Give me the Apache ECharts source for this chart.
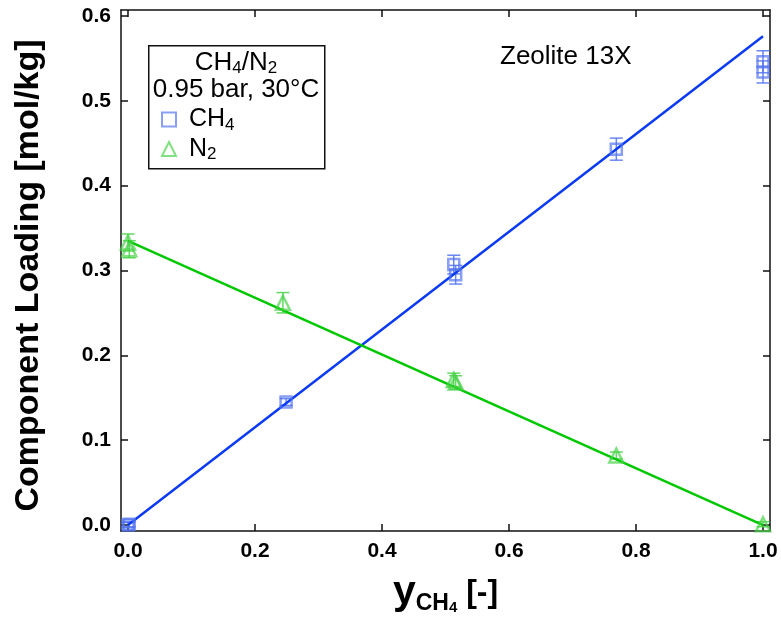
<!DOCTYPE html>
<html>
<head>
<meta charset="utf-8">
<script src="https://cdn.jsdelivr.net/npm/echarts@6/dist/echarts.min.js"></script>
<style>html,body{margin:0;padding:0;background:#fff}#c{width:781px;height:617px}</style>
</head>
<body>
<div id="c"></div>
<script>
// ---- data ----
const xTicks = [0.0, 0.2, 0.4, 0.6, 0.8, 1.0];
const yTicks = [0.0, 0.1, 0.2, 0.3, 0.4, 0.5, 0.6];
const ch4X   = [0.000, 0.002, 0.249, 0.513, 0.516, 0.769, 1.000, 1.000];
const ch4Y   = [0.000, 0.001, 0.145, 0.307, 0.295, 0.443, 0.546, 0.534];
const ch4Err = [0.003, 0.003, 0.004, 0.011, 0.011, 0.013, 0.013, 0.013];
const n2X    = [0.000, 0.002, 0.244, 0.513, 0.516, 0.769, 1.000];
const n2Y    = [0.333, 0.325, 0.262, 0.171, 0.168, 0.082, 0.001];
const n2Err  = [0.010, 0.010, 0.012, 0.008, 0.008, 0.004, 0.003];
const fitX   = [0.0, 1.0];
const ch4Fit = [0.000, 0.576];
const n2Fit  = [0.335, 0.000];

const BLUE_LINE = '#0b3af5', BLUE_MK = 'rgba(80,115,240,0.85)';
const GREEN_LINE = '#00c800', GREEN_MK = 'rgba(70,210,70,0.85)';
const FONT = '"Liberation Sans", Arial, Helvetica, sans-serif';

const pts = (xs, ys) => xs.map((x, i) => [x, ys[i]]);
const errs = (xs, ys, es) => xs.map((x, i) => [x, ys[i] - es[i], ys[i] + es[i]]);

function errRender(color) {
  return function (params, api) {
    const x = api.value(0), lo = api.value(1), hi = api.value(2);
    const a = api.coord([x, lo]), b = api.coord([x, hi]);
    const w = 6.5, st = { stroke: color, lineWidth: 1.5 };
    return { type: 'group', children: [
      { type: 'line', shape: { x1: a[0], y1: a[1], x2: b[0], y2: b[1] }, style: st },
      { type: 'line', shape: { x1: a[0] - w, y1: a[1], x2: a[0] + w, y2: a[1] }, style: st },
      { type: 'line', shape: { x1: b[0] - w, y1: b[1], x2: b[0] + w, y2: b[1] }, style: st }
    ]};
  };
}

const axisLine = { show: true, onZero: false, lineStyle: { color: '#111', width: 1.5 } };
const tick = (vals) => ({ show: true, inside: true, length: 7, customValues: vals, lineStyle: { color: '#111', width: 1.5 } });
const XMIN = -0.011, XMAX = 1.011, YMIN = -0.007, YMAX = 0.607;

const chart = echarts.init(document.getElementById('c'), null, { renderer: 'canvas' });
chart.setOption({
  animation: false,
  backgroundColor: '#fff',
  textStyle: { fontFamily: FONT },
  grid: { left: 121, right: 11, top: 10, bottom: 86, containLabel: false, outerBoundsMode: 'none' },
  xAxis: [
    { type: 'value', min: XMIN, max: XMAX, position: 'bottom', axisLine, axisTick: tick(xTicks), splitLine: { show: false },
      axisLabel: { customValues: xTicks, formatter: v => v.toFixed(1), fontSize: 21, fontWeight: 'bold', color: '#000', margin: 10, fontFamily: FONT },
      name: '{y|y}{s|CH}{t|4}{b| [-]}', nameLocation: 'middle', nameGap: 40,
      nameTextStyle: { fontFamily: FONT, rich: {
        y: { fontSize: 41, fontWeight: 'bold', color: '#000', fontFamily: FONT, lineHeight: 44 },
        s: { fontSize: 23, fontWeight: 'bold', color: '#000', fontFamily: FONT, lineHeight: 30, verticalAlign: 'bottom' },
        t: { fontSize: 15, fontWeight: 'bold', color: '#000', fontFamily: FONT, lineHeight: 18, verticalAlign: 'bottom' },
        b: { fontSize: 32, fontWeight: 'bold', color: '#000', fontFamily: FONT, lineHeight: 44 }
      } } },
    { type: 'value', min: XMIN, max: XMAX, position: 'top', axisLine, axisTick: tick(xTicks), axisLabel: { show: false }, splitLine: { show: false } }
  ],
  yAxis: [
    { type: 'value', min: YMIN, max: YMAX, position: 'left', axisLine, axisTick: tick(yTicks), splitLine: { show: false },
      axisLabel: { customValues: yTicks, formatter: v => v.toFixed(1), fontSize: 21, fontWeight: 'bold', color: '#000', margin: 10, fontFamily: FONT },
      name: 'Component Loading [mol/kg]', nameLocation: 'middle', nameGap: 75,
      nameTextStyle: { fontSize: 34, fontWeight: 'bold', color: '#000', fontFamily: FONT, padding: [0, 10, 0, 0] } },
    { type: 'value', min: YMIN, max: YMAX, position: 'right', axisLine, axisTick: tick(yTicks), axisLabel: { show: false }, splitLine: { show: false } }
  ],
  legend: {
    orient: 'vertical', left: 156, top: 102, itemGap: 3, itemWidth: 14, itemHeight: 14,
    data: ['CH4', 'N2'],
    formatter: n => n === 'CH4' ? '{a|CH}{s|4}' : '{a|N}{s|2}',
    textStyle: { fontFamily: FONT, rich: {
      a: { fontSize: 25, color: '#000', fontFamily: FONT, lineHeight: 28, padding: [0, 0, 0, 8] },
      s: { fontSize: 17, color: '#000', fontFamily: FONT, lineHeight: 16, verticalAlign: 'bottom' }
    } }
  },
  graphic: [
    { type: 'rect', left: 148, top: 45, z: 1, shape: { width: 176, height: 123 }, style: { fill: '#fff', stroke: '#111', lineWidth: 1.5 } },
    { type: 'text', x: 236, y: 63, z: 5, style: { text: '{a|CH}{s|4}{a|/N}{s|2}', align: 'center', verticalAlign: 'middle',
        rich: { a: { fontSize: 26, fontFamily: FONT, fill: '#000', lineHeight: 28 }, s: { fontSize: 17, fontFamily: FONT, fill: '#000', lineHeight: 16, verticalAlign: 'bottom' } } } },
    { type: 'text', x: 236, y: 90, z: 5, style: { text: '0.95 bar, 30°C', align: 'center', verticalAlign: 'middle', font: '26px ' + FONT, fill: '#000' } },
    { type: 'text', x: 500, y: 57, z: 5, style: { text: 'Zeolite 13X', align: 'left', verticalAlign: 'middle', font: '26px ' + FONT, fill: '#000' } }
  ],
  series: [
    { name: 'CH4 fit', type: 'line', xAxisIndex: 0, yAxisIndex: 0, data: pts(fitX, ch4Fit), showSymbol: false, symbol: 'none', lineStyle: { color: BLUE_LINE, width: 2.5 }, z: 3 },
    { name: 'N2 fit', type: 'line', xAxisIndex: 0, yAxisIndex: 0, data: pts(fitX, n2Fit), showSymbol: false, symbol: 'none', lineStyle: { color: GREEN_LINE, width: 2.5 }, z: 3 },
    { name: 'CH4 err', type: 'custom', renderItem: errRender(BLUE_MK), data: errs(ch4X, ch4Y, ch4Err), z: 2 },
    { name: 'N2 err', type: 'custom', renderItem: errRender(GREEN_MK), data: errs(n2X, n2Y, n2Err), z: 2 },
    { name: 'CH4', type: 'scatter', data: pts(ch4X, ch4Y), symbol: 'rect', symbolSize: 11,
      itemStyle: { color: 'rgba(255,255,255,0)', borderColor: BLUE_MK, borderWidth: 2.5 }, z: 4 },
    { name: 'N2', type: 'scatter', data: pts(n2X, n2Y), symbol: 'triangle', symbolSize: 14,
      itemStyle: { color: 'rgba(255,255,255,0)', borderColor: GREEN_MK, borderWidth: 2.5 }, z: 4 }
  ]
});
</script>
</body>
</html>
